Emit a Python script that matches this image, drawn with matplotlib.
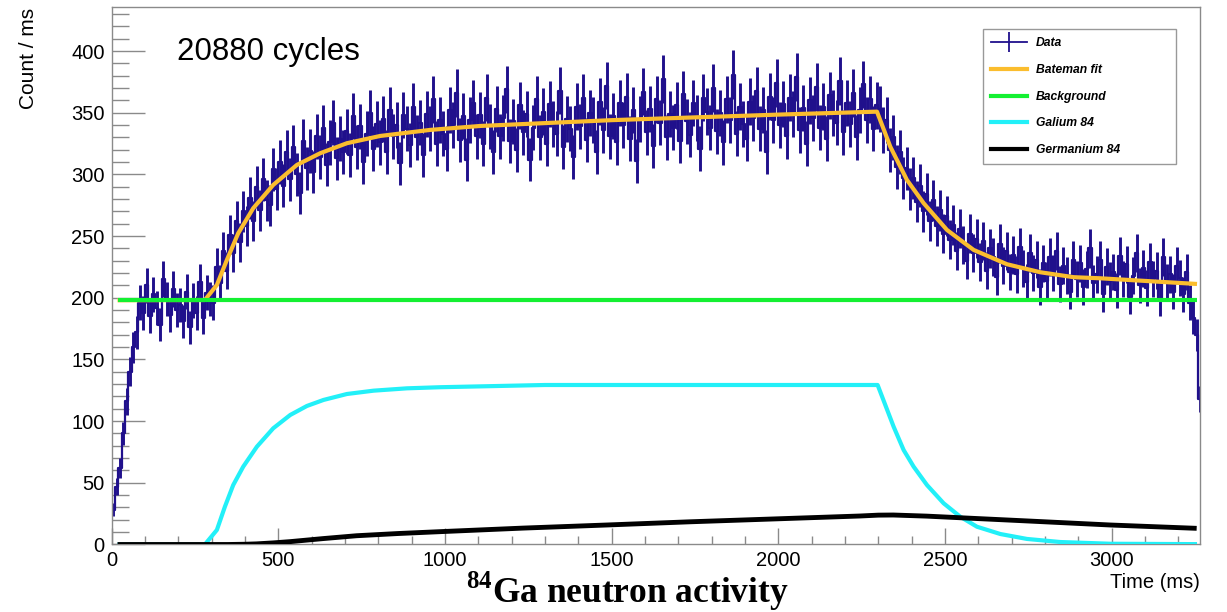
import matplotlib.pyplot as plt
import numpy as np
from matplotlib.lines import Line2D
from matplotlib.ticker import MultipleLocator

plt.rcParams['font.family'] = ['Liberation Sans', 'DejaVu Sans']
plt.rcParams['mathtext.fontset'] = 'custom'
plt.rcParams['mathtext.rm'] = 'Liberation Serif:bold'
plt.rcParams['mathtext.bf'] = 'Liberation Serif:bold'

# 10 ms bins, counts per ms summed over all cycles
bin_width = 10
counts = [
    28, 47, 62, 90, 116, 140, 160, 172, 196, 188,
    210, 185, 203, 192, 178, 215, 199, 186, 207, 190,
    194, 181, 205, 176, 198, 188, 213, 184, 204, 199,
    196, 225, 212, 238, 222, 251, 236, 262, 245, 270,
    258, 281, 262, 290, 271, 296, 279, 275, 304, 288,
    310, 291, 318, 296, 322, 300, 285, 327, 305, 319,
    302, 331, 314, 338, 308, 326, 342, 313, 329, 318,
    335, 316, 347, 322, 339, 310, 333, 350, 321, 341,
    326, 345, 318, 352, 331, 340, 309, 348, 337, 324,
    355, 330, 342, 316, 349, 337, 361, 325, 344, 333,
    321, 352, 340, 366, 328, 347, 312, 344, 358, 331,
    348, 325, 362, 339, 318, 353, 331, 346, 369, 327,
    343, 320, 356, 334, 349, 312, 338, 361, 330, 351,
    325, 357, 341, 333, 368, 322, 345, 337, 314, 355,
    339, 362, 328, 350, 344, 318, 359, 336, 372, 331,
    347, 326, 358, 340, 363, 329, 352, 311, 345, 367,
    334, 353, 323, 361, 342, 377, 330, 349, 338, 356,
    327, 365, 343, 332, 358, 346, 321, 362, 351, 338,
    370, 335, 350, 326, 361, 344, 381, 333, 355, 341,
    329, 359, 346, 368, 337, 352, 318, 363, 344, 374,
    340, 357, 331, 362, 349, 379, 336, 354, 325, 360,
    346, 371, 338, 355, 329, 364, 350, 342, 376, 334,
    358, 341, 366, 330, 352, 373, 344, 361, 337, 356,
    353, 336, 344, 320, 330, 306, 318, 297, 305, 288,
    297, 278, 291, 270, 284, 262, 279, 258, 271, 252,
    266, 247, 259, 238, 256, 243, 230, 252, 236, 248,
    229, 246, 222, 240, 233, 217, 244, 226, 238, 221,
    235, 219, 241, 224, 213, 236, 220, 231, 209, 228,
    214, 233, 220, 238, 211, 226, 218, 205, 231, 215,
    228, 209, 223, 240, 212, 219, 231, 203, 225, 214,
    221, 206, 234, 215, 227, 201, 218, 236, 210, 224,
    208, 229, 215, 222, 199, 233, 213, 219, 205, 226,
    216, 203, 221, 196, 184, 170, 118,
]

# fitted components (ms, count / ms)
fit_t = [18, 280, 316, 346, 380, 425, 485, 556, 626, 706, 806, 956, 1106, 1500, 2000, 2296,
         2336, 2386, 2436, 2506, 2586, 2686, 2786, 2886, 2966, 3256]
fit_y = [198, 198.2, 210.4, 230.7, 252.3, 272.6, 291.5, 307.7, 317.2, 325.3, 331.2, 336.1, 339.3, 344, 348.5, 350.9,
         322.5, 295.5, 276.7, 255, 238.8, 227.2, 220.7, 216.7, 215.8, 211.2]

bkg_t = [18, 3256]
bkg_y = [198, 198]

ga_t = [18, 280, 316, 340, 365, 395, 436, 485, 536, 586, 636, 706, 786, 886, 986, 1300, 2298,
        2346, 2376, 2406, 2446, 2496, 2546, 2596, 2666, 2746, 2846, 2996, 3256]
ga_y = [0, 0, 11.8, 30.6, 48.2, 63.1, 79.3, 94.2, 105, 112.3, 117.2, 122, 124.7, 126.6, 127.5, 129.3, 129.3,
        95.5, 76.6, 63.1, 48.2, 33.4, 22.5, 14.4, 8.5, 4.5, 2, 0.6, 0.3]

ge_t = [18, 350, 400, 435, 485, 535, 635, 735, 860, 985, 1235, 1485, 1735, 1985, 2245, 2300, 2345,
        2445, 2545, 2746, 2996, 3255]
ge_y = [0, 0, 0.2, 0.5, 1.3, 2.3, 4.8, 7.1, 8.9, 10.4, 13.3, 15.8, 18.4, 20.7, 23.1, 23.8, 23.9,
        23.0, 21.7, 19.1, 15.8, 13.1]

data_col = '#20108c'
fit_col = '#fbbd2e'
bkg_col = '#14f032'
ga_col = '#22f0f8'
frame_col = '#8a8a8a'

fig = plt.figure(figsize=(12.27, 6.12), dpi=100)
ax = fig.add_axes([0.0909, 0.1103, 0.8871, 0.8788])

counts = np.array(counts, dtype=float)
centers = np.arange(len(counts)) * bin_width + bin_width / 2
errors = np.sqrt(counts)

ax.step(centers, counts, where='mid', color=data_col, lw=1.6, zorder=2)
ax.errorbar(centers, counts, yerr=errors, fmt='none',
            ecolor=data_col, elinewidth=2.1, capsize=0, zorder=2)

ax.plot(fit_t, fit_y, color=fit_col, lw=3, zorder=3, solid_capstyle='butt')
ax.plot(bkg_t, bkg_y, color=bkg_col, lw=3, zorder=4, solid_capstyle='butt')
ax.plot(ga_t, ga_y, color=ga_col, lw=3, zorder=5, solid_capstyle='butt')
ax.plot(ge_t, ge_y, color='black', lw=3.5, zorder=6, solid_capstyle='butt')

ax.set_xlim(0, 3265)
ax.set_ylim(0, 436)

ax.xaxis.set_major_locator(MultipleLocator(500))
ax.xaxis.set_minor_locator(MultipleLocator(100))
ax.yaxis.set_major_locator(MultipleLocator(50))
ax.yaxis.set_minor_locator(MultipleLocator(10))
ax.tick_params(which='both', direction='in', colors=frame_col, labelcolor='black',
               labelsize=14.5, top=False, right=False)
ax.tick_params(axis='y', which='major', length=23.8, width=1, pad=5)
ax.tick_params(axis='y', which='minor', length=12, width=1)
ax.tick_params(axis='x', which='major', length=11.5, width=1, pad=4.5)
ax.tick_params(axis='x', which='minor', length=5.8, width=1)
for sp in ax.spines.values():
    sp.set_color(frame_col)
    sp.set_linewidth(1)

fig.text(29 / 1227, 1 - 8 / 612, 'Count / ms', rotation=90, ha='center', va='top', fontsize=15)
fig.text(1200 / 1227, 1 - 588 / 612, 'Time (ms)', ha='right', va='baseline', fontsize=14.5)
ax.text(0.060, 0.901, '20880 cycles', transform=ax.transAxes, fontsize=22.5, va='baseline')

fig.text(0.511, 1 - 603 / 612, r'$^{84}$Ga neutron activity', ha='center', va='baseline',
         fontsize=25.5, fontweight='bold', family='Liberation Serif')

handles = [
    Line2D([], [], color=data_col, lw=1.3, marker='|', markersize=15, markeredgewidth=1.3),
    Line2D([], [], color=fit_col, lw=3),
    Line2D([], [], color=bkg_col, lw=3),
    Line2D([], [], color=ga_col, lw=3),
    Line2D([], [], color='black', lw=3),
]
labels = ['Data', 'Bateman fit', 'Background', 'Galium 84', 'Germanium 84']
leg = fig.legend(handles, labels, loc='upper left', mode='expand',
                 bbox_to_anchor=(977 / 1227, 1 - 158 / 612, 205 / 1227, 135 / 612),
                 prop={'size': 8.7, 'weight': 'bold', 'style': 'italic'},
                 handlelength=2.9, handletextpad=0.75, labelspacing=1.21, borderpad=0.7,
                 numpoints=1, fancybox=False, framealpha=1, edgecolor='#999999')
leg.get_frame().set_linewidth(1)

plt.savefig('out.png', dpi=100)
